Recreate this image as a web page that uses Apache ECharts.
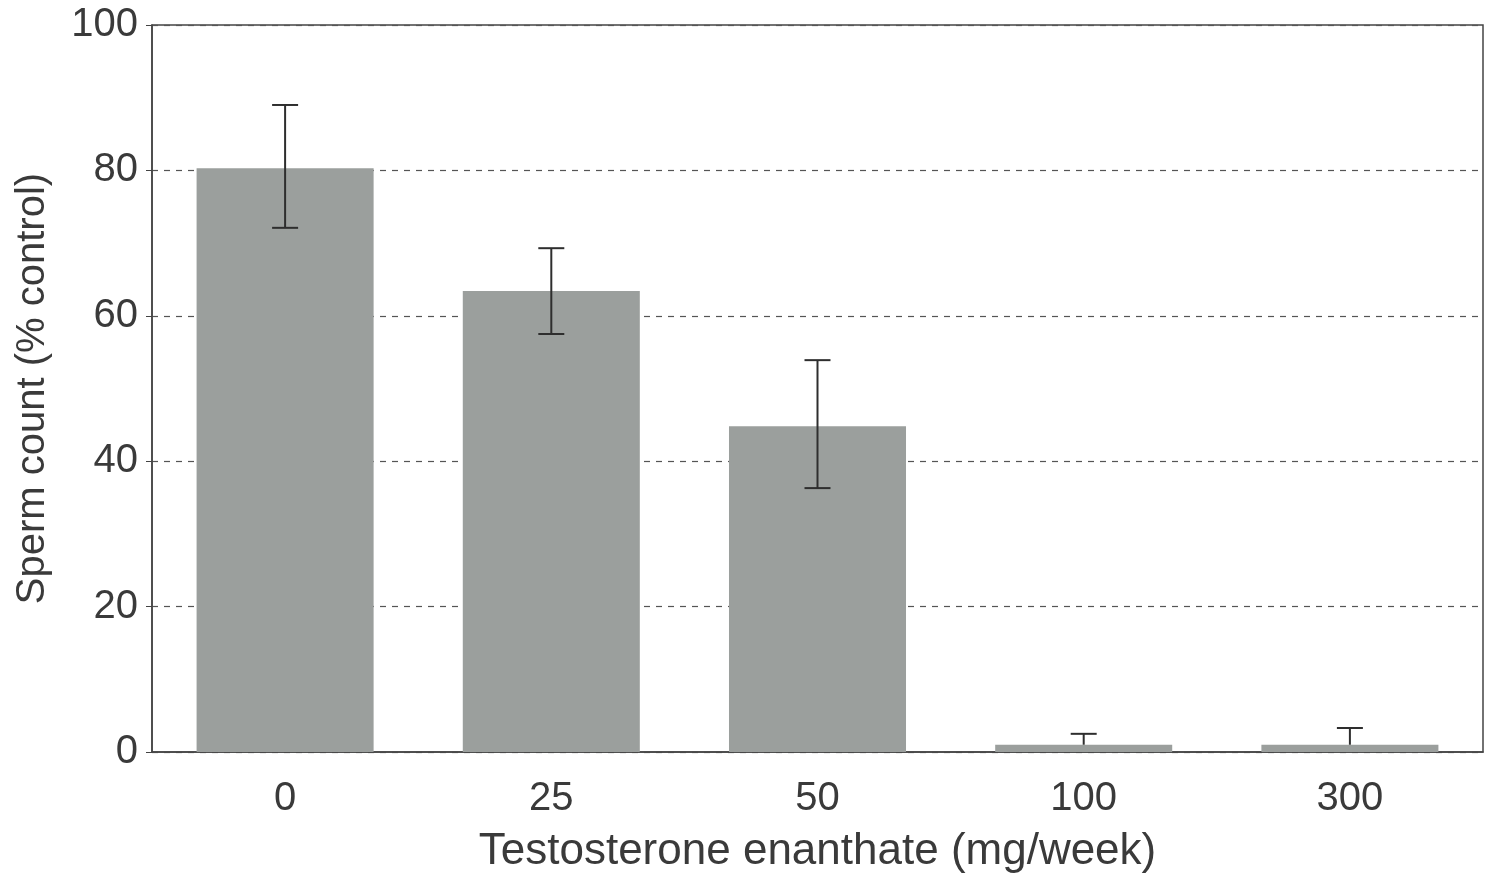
<!DOCTYPE html>
<html>
<head>
<meta charset="utf-8">
<script src="https://cdn.jsdelivr.net/npm/echarts@6/dist/echarts.min.js"></script>
<style>
html,body{margin:0;padding:0;background:#fff;}
#chart{width:1486px;height:876px;}
</style>
</head>
<body>
<div id="chart"></div>
<script>
const categories = ['0', '25', '50', '100', '300'];
const meanValues = [80.3, 63.4, 44.8, 1.0, 1.0];
const errUpper = [89.0, 69.3, 53.9, 2.5, 3.3];
const errLower = [72.1, 57.5, 36.3, null, null];
const yTicks = [0, 20, 40, 60, 80, 100];

const chart = echarts.init(document.getElementById('chart'));
const textColor = '#3a3a3a';
const fontFam = 'Liberation Sans, Arial, sans-serif';

const errData = categories.map((c, i) => [i, errLower[i], errUpper[i], meanValues[i]]);

chart.setOption({
  backgroundColor: '#fff',
  animation: false,
  grid: {
    left: 152, right: 3, top: 25, bottom: 124,
    outerBoundsMode: 'none',
    containLabel: false,
    show: true, borderColor: '#444', borderWidth: 1.5, backgroundColor: 'transparent'
  },
  xAxis: {
    type: 'category',
    data: categories,
    name: 'Testosterone enanthate (mg/week)',
    nameLocation: 'middle',
    nameGap: 78,
    nameTextStyle: { fontSize: 44, color: textColor, fontFamily: fontFam },
    axisLine: { lineStyle: { color: '#444', width: 1.5 } },
    axisTick: { show: false },
    axisLabel: { fontSize: 40, color: textColor, fontFamily: fontFam, margin: 27 }
  },
  yAxis: {
    type: 'value',
    min: 0, max: 100, interval: 20,
    name: 'Sperm count (% control)',
    nameLocation: 'middle',
    nameGap: 99,
    nameTextStyle: { fontSize: 40, color: textColor, fontFamily: fontFam },
    axisLine: { show: true, lineStyle: { color: '#444', width: 1.5 } },
    axisTick: { show: true, length: 6, lineStyle: { color: '#444' } },
    axisLabel: { fontSize: 40, color: textColor, fontFamily: fontFam, margin: 14,
      formatter: v => yTicks.includes(v) ? String(v) : '' },
    splitLine: { show: true, lineStyle: { color: '#555', type: [6, 6], width: 1.2 } }
  },
  series: [
    {
      type: 'bar',
      data: meanValues,
      barWidth: '66.5%',
      itemStyle: { color: '#9b9f9d' },
      z: 2
    },
    {
      type: 'custom',
      data: errData,
      z: 5,
      renderItem: function (params, api) {
        const x = api.value(0);
        const lo = api.value(1);
        const hi = api.value(2);
        const mean = api.value(3);
        const capHalf = 13;
        const top = api.coord([x, hi]);
        const hasLo = lo !== null && !isNaN(lo);
        const bot = api.coord([x, hasLo ? lo : mean]);
        const style = { stroke: '#2e2e2e', lineWidth: 2 };
        const children = [
          { type: 'line', shape: { x1: top[0], y1: top[1], x2: bot[0], y2: bot[1] }, style },
          { type: 'line', shape: { x1: top[0] - capHalf, y1: top[1], x2: top[0] + capHalf, y2: top[1] }, style }
        ];
        if (hasLo) {
          children.push({ type: 'line', shape: { x1: bot[0] - capHalf, y1: bot[1], x2: bot[0] + capHalf, y2: bot[1] }, style });
        }
        return { type: 'group', children };
      }
    }
  ]
});
</script>
</body>
</html>
